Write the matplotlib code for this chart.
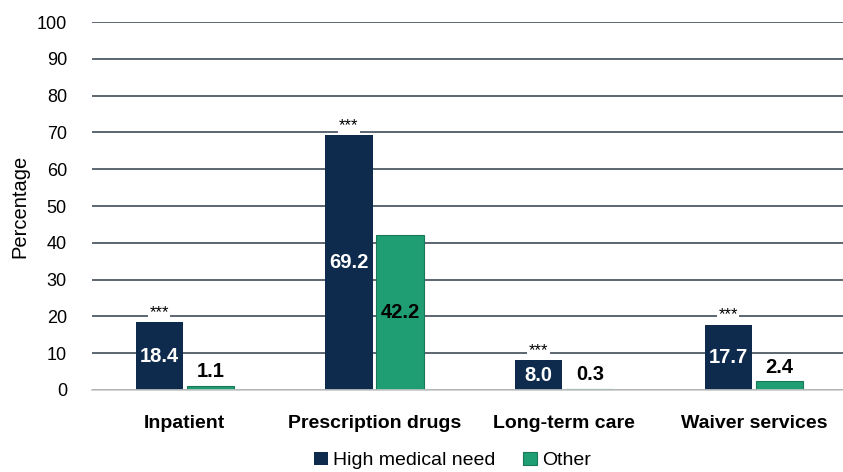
import numpy as np
import matplotlib.pyplot as plt

plt.rcParams['font.family'] = ['Liberation Sans', 'DejaVu Sans']

# data
categories = ["Inpatient", "Prescription drugs", "Long-term care", "Waiver services"]
high_need = [18.4, 69.2, 8.0, 17.7]
other = [1.1, 42.2, 0.3, 2.4]
significance = ["***", "***", "***", "***"]
yticks = list(range(0, 101, 10))

navy = "#0e2a4d"
green = "#1f9e74"
grid_col = "#4f5a66"

fig = plt.figure(figsize=(8.43, 4.72), dpi=100)
ax = fig.add_axes([0.109, 0.174, 0.891, 0.779])

x = np.arange(len(categories))
w = 0.25
off = 0.135

ax.bar(x - off, high_need, w, color=navy, zorder=3, label="High medical need")
ax.bar(x + off, other, w, color=green, edgecolor="#17785a", linewidth=0.8,
       zorder=3, label="Other")

# value labels
for xi, v in zip(x - off, high_need):
    ax.text(xi, v / 2, f"{v:.1f}", ha="center", va="center", color="white",
            fontsize=14.5, fontweight="bold", zorder=4)
for xi, v, s in zip(x - off, high_need, significance):
    ax.text(xi, v + 0.6, s, ha="center", va="bottom", fontsize=12, zorder=4,
            bbox=dict(facecolor="white", edgecolor="none", pad=1.0))
for xi, v in zip(x + off, other):
    if v > 10:
        ax.text(xi, v / 2, f"{v:.1f}", ha="center", va="center", color="black",
                fontsize=14.5, fontweight="bold", zorder=4)
    else:
        ax.text(xi, v + 1.2, f"{v:.1f}", ha="center", va="bottom", color="black",
                fontsize=14.5, fontweight="bold", zorder=4)

ax.set_ylim(0, 100)
ax.set_xlim(-0.49, 3.47)
ax.set_yticks(yticks)
ax.set_yticklabels([str(t) for t in yticks], fontsize=13)
ax.set_xticks(x)
ax.set_xticklabels(categories, fontsize=14, fontweight="bold")
ax.tick_params(axis="both", length=0)
ax.tick_params(axis="x", pad=18)
ax.tick_params(axis="y", pad=18)

ax.yaxis.grid(True, color=grid_col, linewidth=1.3, zorder=0)
ax.set_axisbelow(True)
for side in ["top", "right", "left"]:
    ax.spines[side].set_visible(False)
ax.spines["bottom"].set_color("#c8c8c8")
ax.spines["bottom"].set_linewidth(1.2)
ax.spines["bottom"].set_zorder(5)

ax.set_ylabel("Percentage", fontsize=14.5, labelpad=5)

fig.legend(loc="center", bbox_to_anchor=(0.537, 0.024), ncol=2, frameon=False,
           fontsize=14, handlelength=0.7, handleheight=0.7, handletextpad=0.3,
           columnspacing=1.4, borderpad=0.1)

fig.savefig("out.png", dpi=100)
